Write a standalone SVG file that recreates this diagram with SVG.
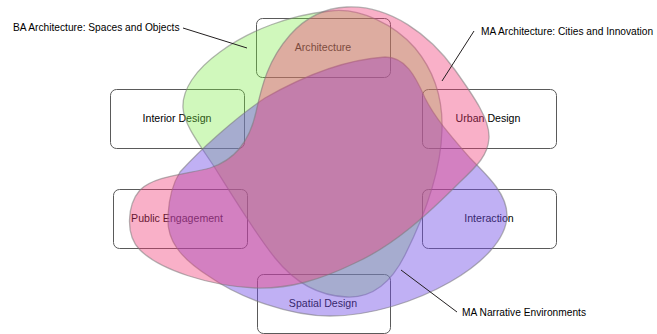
<svg xmlns="http://www.w3.org/2000/svg" width="657" height="334" viewBox="0 0 657 334">
<style>
.box{fill:none;stroke:#5a5a5a;stroke-width:1}
.lbl{font-family:"Liberation Sans",Arial,sans-serif;font-size:10.6px;fill:#000000;text-anchor:middle}
.ann{font-family:"Liberation Sans",Arial,sans-serif;font-size:10.2px;fill:#000000}
.blob{stroke:#7a7a7a;stroke-width:1.3;stroke-opacity:0.55}
.conn{stroke:#231f20;stroke-width:1;fill:none}
</style>
<rect width="657" height="334" fill="#ffffff"/>
<g id="node-architecture"><rect class="box" x="256.5" y="18.5" width="134" height="59" rx="6"/><text class="lbl" x="323" y="51">Architecture</text></g>
<g id="node-interior-design"><rect class="box" x="110.5" y="89.5" width="134" height="59" rx="6"/><text class="lbl" x="177" y="122">Interior Design</text></g>
<g id="node-urban-design"><rect class="box" x="422.5" y="89.5" width="134" height="59" rx="6"/><text class="lbl" x="488" y="122">Urban Design</text></g>
<g id="node-public-engagement"><rect class="box" x="113.5" y="189.5" width="134" height="59" rx="6"/><text class="lbl" x="177" y="222">Public Engagement</text></g>
<g id="node-interaction"><rect class="box" x="422.5" y="189.5" width="134" height="59" rx="6"/><text class="lbl" x="489" y="222">Interaction</text></g>
<g id="node-spatial-design"><rect class="box" x="257.5" y="274.5" width="133" height="59" rx="6"/><text class="lbl" x="323" y="307">Spatial Design</text></g>
<g id="node-ba-architecture"><path class="blob" fill="#79eb40" fill-opacity="0.35" d="M330,11 C360,7 395,25 415,48 C435,72 443,100 442,130 C441,170 425,215 405,255 C390,285 370,298 347,297 C320,296 295,283 275,258 C255,233 235,200 215,168 C200,145 184,125 183,108 C182,90 195,70 220,52 C250,30 290,15 330,11 Z"/></g>
<g id="node-ma-narrative"><path class="blob" fill="#734fe7" fill-opacity="0.45" d="M180,172 C200,150 235,118 265,98 C300,78 340,60 385,57 C405,57 415,75 425,98 C435,118 450,135 470,158 C490,178 507,195 507,215 C507,240 480,265 450,282 C415,302 370,316 330,316 C290,316 240,298 210,277 C180,258 166,240 168,215 C169,198 173,183 180,172 Z"/></g>
<g id="node-ma-architecture"><path class="blob" fill="#f03a76" fill-opacity="0.4" d="M347,7 C390,5 430,35 455,70 C475,98 490,120 489,138 C488,155 478,165 460,182 C430,212 395,245 355,263 C320,280 290,289 255,288 C210,286 160,270 140,250 C125,235 127,205 140,190 C155,175 190,174 210,168 C235,160 250,140 256,112 C262,85 268,60 290,35 C305,18 325,8 347,7 Z"/></g>
<g id="connectors">
<line class="conn" x1="183" y1="28" x2="247" y2="48"/>
<line class="conn" x1="474" y1="31" x2="442" y2="81"/>
<line class="conn" x1="401" y1="270" x2="457" y2="312"/>
</g>
<g id="label-ba"><text class="ann" x="13" y="31">BA Architecture: Spaces and Objects</text></g>
<g id="label-ma-arch"><text class="ann" x="481" y="35">MA Architecture: Cities and Innovation</text></g>
<g id="label-ma-narr"><text class="ann" x="462" y="316">MA Narrative Environments</text></g>
</svg>
